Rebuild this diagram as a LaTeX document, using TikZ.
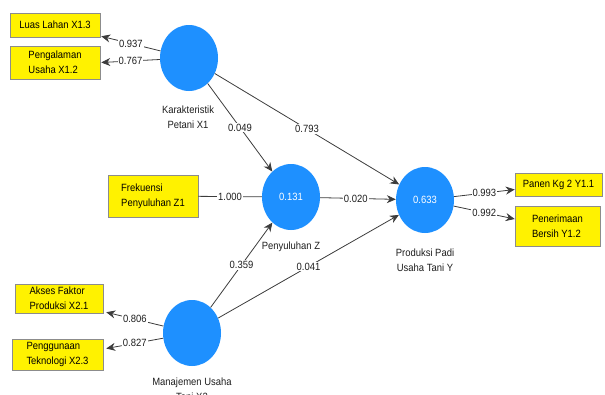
\documentclass[tikz,border=0pt]{standalone}
\usepackage{fontspec}
\setmainfont{Liberation Sans}[FakeStretch=0.9]
\usetikzlibrary{arrows.meta,shapes.geometric}
\definecolor{plsblue}{RGB}{30,144,255}
\definecolor{plsline}{RGB}{60,60,60}
\definecolor{plstext}{RGB}{30,30,30}
\tikzset{
  latent/.style={ellipse, fill=plsblue, minimum width=58pt, minimum height=66pt, inner sep=0pt, text=white},
  indicator/.style={rectangle, fill=yellow, draw=black!45, line width=0.5pt, align=left, inner sep=2pt},
  lbl/.style={fill=white, inner sep=1pt, text=plstext},
  lvname/.style={align=center, text=plstext},
  pathline/.style={draw=plsline, line width=0.8pt},
}
\begin{document}
\begin{tikzpicture}[x=1pt, y=-1pt, >={Stealth[length=9pt,width=8pt]},
    every node/.style={font=\fontsize{10.5}{15}\selectfont}]
  \useasboundingbox (0,0) rectangle (605,394);
  \clip (0,0) rectangle (605,394);
  % constructs
  \node[latent] (x1) at (189,58) {};
  \node[latent] (z) at (291,197) {0.131};
  \node[latent] (y) at (425,200) {0.633};
  \node[latent] (x2) at (192,333) {};
  \node[lvname] (x1name) at (188,117) {Karakteristik\\Petani X1};
  \node[lvname] (zname) at (291,247) {Penyuluhan Z};
  \node[lvname] (yname) at (425,260) {Produksi Padi\\Usaha Tani Y};
  \node[lvname] (x2name) at (192,389) {Manajemen Usaha\\Tani X2};
  % indicators
  \node[indicator, minimum width=90pt, minimum height=24pt] (luas) at (55,25) {Luas Lahan X1.3};
  \node[indicator, minimum width=90pt, minimum height=33pt] (peng) at (55,62.5) {Pengalaman\\Usaha X1.2};
  \node[indicator, minimum width=90pt, minimum height=42pt] (frek) at (153,196) {Frekuensi\\Penyuluhan Z1};
  \node[indicator, minimum width=88pt, minimum height=29pt] (akses) at (59,298.5) {Akses Faktor\\Produksi X2.1};
  \node[indicator, minimum width=91pt, minimum height=31pt] (guna) at (57.5,354.5) {Penggunaan\\Teknologi X2.3};
  \node[indicator, minimum width=87pt, minimum height=23pt] (panen) at (558.5,184.5) {Panen Kg 2 Y1.1};
  \node[indicator, minimum width=85pt, minimum height=40pt] (terima) at (557.5,226) {Penerimaan\\Bersih Y1.2};
  % outer loadings
  \draw[pathline,->] (x1) -- ([xshift=1pt,yshift=1pt]luas.south east) node[lbl,pos=.5] {0.937};
  \draw[pathline,->] (x1) -- ([xshift=1pt]peng.east) node[lbl,pos=.5] {0.767};
  \draw[pathline] (frek) -- (z) node[lbl,pos=.5] {1.000};
  \draw[pathline,->] (x2) -- ([xshift=3pt,yshift=1pt]akses.south east) node[lbl,pos=.5] {0.806};
  \draw[pathline,->] (x2) -- ([xshift=3pt,yshift=6pt]guna.east) node[lbl,pos=.5] {0.827};
  \draw[pathline,->] (y) -- ([yshift=-5pt]panen.west) node[lbl,pos=.5] {0.993};
  \draw[pathline,->] (y) -- ([yshift=7pt]terima.west) node[lbl,pos=.5] {0.992};
  % inner model
  \draw[pathline,->] (x1) -- (z) node[lbl,pos=.5] {0.049};
  \draw[pathline,->] (x1) -- (y) node[lbl,pos=.5] {0.793};
  \draw[pathline,->] (z) -- (y) node[lbl,pos=.47] {0.020};
  \draw[pathline,->] (x2) -- (z) node[lbl,pos=.5] {0.359};
  \draw[pathline,->] (x2) -- (y) node[lbl,pos=.5] {0.041};
\end{tikzpicture}
\end{document}
